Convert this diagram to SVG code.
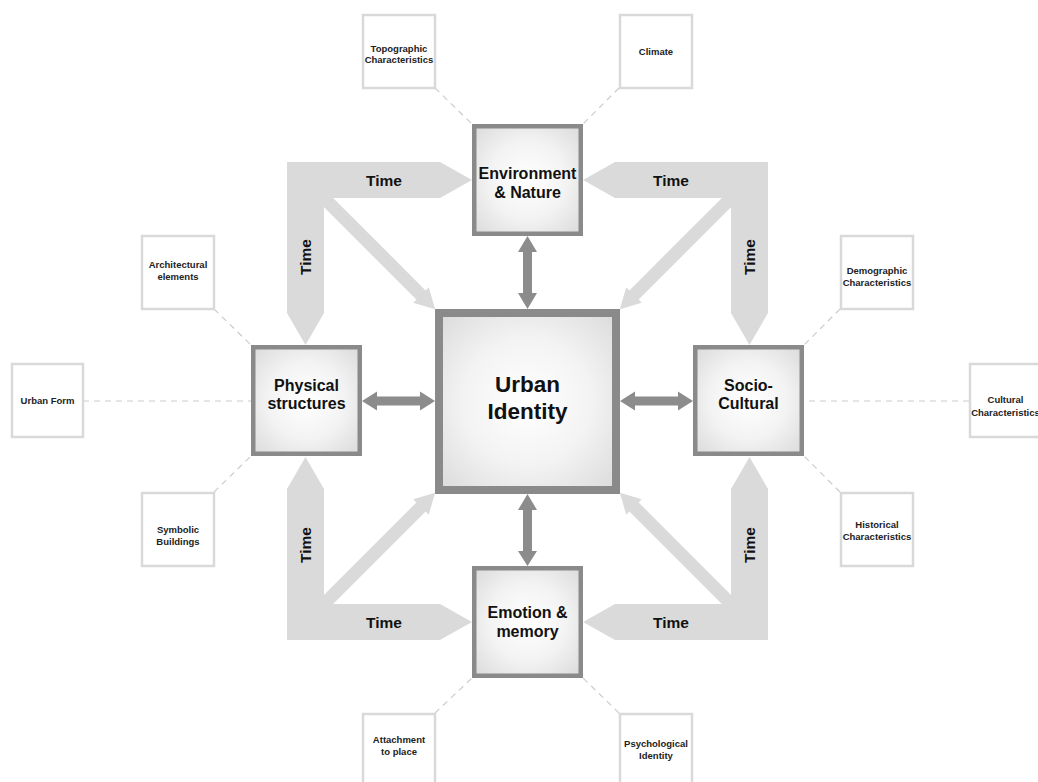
<svg xmlns="http://www.w3.org/2000/svg" width="1038" height="782" viewBox="0 0 1038 782">
<defs>
<radialGradient id="g" cx="50%" cy="50%" r="72%">
<stop offset="0%" stop-color="#ffffff"/>
<stop offset="50%" stop-color="#f3f3f3"/>
<stop offset="100%" stop-color="#d9d9d9"/>
</radialGradient>
</defs>
<style>
.node{fill:url(#g);stroke:#8a8a8a;stroke-width:4.5}
.main{fill:url(#g);stroke:#8a8a8a;stroke-width:8}
.sat{fill:#ffffff;stroke:#d9d9d9;stroke-width:2.5}
.t{font-family:"Liberation Sans",Arial,sans-serif;font-weight:bold;text-anchor:middle;fill:#111}
.nt{font-size:16px}
.mt{font-size:22.5px}
.st{font-size:9.5px;fill:#222}
.tt{font-size:15.5px;fill:#111}
.time{fill:#dadada}
.diag{fill:#dadada}
.dash{stroke:#cccccc;stroke-width:1.2;stroke-dasharray:6 5;fill:none}
.dbl{fill:#8c8c8c}
</style>

<rect width="1038" height="782" fill="#ffffff"/>

<g id="connectors">
<line class="dash" x1="435" y1="88" x2="472" y2="124"/>
<line class="dash" x1="619" y1="88" x2="583" y2="124"/>
<line class="dash" x1="214" y1="309" x2="251" y2="345"/>
<line class="dash" x1="214" y1="492" x2="251" y2="456"/>
<line class="dash" x1="83" y1="401" x2="251" y2="401"/>
<line class="dash" x1="840" y1="309" x2="804" y2="345"/>
<line class="dash" x1="840" y1="492" x2="804" y2="456"/>
<line class="dash" x1="969" y1="401" x2="804" y2="401"/>
<line class="dash" x1="435" y1="713" x2="472" y2="678"/>
<line class="dash" x1="619" y1="713" x2="583" y2="678"/>

<polygon class="time" points="287,162 440,162 472,180 440,198 324,198 324,313 305.5,345 287,313"/>
<polygon class="time" points="768,162 615,162 583,180 615,198 731,198 731,313 749.5,345 768,313"/>
<polygon class="time" points="287,640 440,640 472,622 440,604 324,604 324,489 305.5,457 287,489"/>
<polygon class="time" points="768,640 615,640 583,622 615,604 731,604 731,489 749.5,457 768,489"/>

<path class="diag" transform="translate(322,196) rotate(45)" d="M0,-6.5 L140,-6.5 L140,-11 L160,0 L140,11 L140,6.5 L0,6.5 Z"/>
<path class="diag" transform="translate(733,196) rotate(135)" d="M0,-6.5 L140,-6.5 L140,-11 L160,0 L140,11 L140,6.5 L0,6.5 Z"/>
<path class="diag" transform="translate(322,606) rotate(-45)" d="M0,-6.5 L140,-6.5 L140,-11 L160,0 L140,11 L140,6.5 L0,6.5 Z"/>
<path class="diag" transform="translate(733,606) rotate(-135)" d="M0,-6.5 L140,-6.5 L140,-11 L160,0 L140,11 L140,6.5 L0,6.5 Z"/>

<polygon class="dbl" points="527.5,236 537,252 532,252 532,293 537,293 527.5,309 518,293 523,293 523,252 518,252"/>
<polygon class="dbl" points="527.5,494 537,510 532,510 532,551 537,551 527.5,566 518,551 523,551 523,510 518,510"/>
<polygon class="dbl" points="362,401 377,391.5 377,396.5 420,396.5 420,391.5 435,401 420,410.5 420,405.5 377,405.5 377,410.5"/>
<polygon class="dbl" points="620,401 635,391.5 635,396.5 678,396.5 678,391.5 693,401 678,410.5 678,405.5 635,405.5 635,410.5"/>

<text class="t tt" x="384" y="186">Time</text>
<text class="t tt" x="671" y="186">Time</text>
<text class="t tt" x="384" y="628">Time</text>
<text class="t tt" x="671" y="628">Time</text>
<text class="t tt" transform="translate(311,257) rotate(-90)">Time</text>
<text class="t tt" transform="translate(755,257) rotate(-90)">Time</text>
<text class="t tt" transform="translate(311,545) rotate(-90)">Time</text>
<text class="t tt" transform="translate(755,545) rotate(-90)">Time</text>
</g>

<g id="urban-identity">
<rect class="main" x="439" y="313" width="177" height="177"/>
<text class="t mt" x="527.5" y="392">Urban</text>
<text class="t mt" x="527.5" y="419">Identity</text>
</g>

<g id="environment-nature">
<rect class="node" x="474.25" y="126.25" width="106.5" height="107.5"/>
<text class="t nt" x="527.5" y="179">Environment</text>
<text class="t nt" x="527.5" y="198">&amp; Nature</text>
</g>

<g id="physical-structures">
<rect class="node" x="253.25" y="347.25" width="106.5" height="106.5"/>
<text class="t nt" x="306.5" y="391">Physical</text>
<text class="t nt" x="306.5" y="409">structures</text>
</g>

<g id="socio-cultural">
<rect class="node" x="695.25" y="347.25" width="106.5" height="106.5"/>
<text class="t nt" x="748.5" y="391">Socio-</text>
<text class="t nt" x="748.5" y="409">Cultural</text>
</g>

<g id="emotion-memory">
<rect class="node" x="474.25" y="568.25" width="106.5" height="107.5"/>
<text class="t nt" x="527.5" y="618">Emotion &amp;</text>
<text class="t nt" x="527.5" y="637">memory</text>
</g>

<g id="topographic">
<rect class="sat" x="363" y="15" width="72" height="73"/>
<text class="t st" x="399" y="52">Topographic</text>
<text class="t st" x="399" y="63">Characteristics</text>
</g>

<g id="climate">
<rect class="sat" x="620" y="15" width="72" height="73"/>
<text class="t st" x="656" y="55">Climate</text>
</g>

<g id="architectural">
<rect class="sat" x="142" y="236" width="72" height="73"/>
<text class="t st" x="178" y="268">Architectural</text>
<text class="t st" x="178" y="280">elements</text>
</g>

<g id="urban-form">
<rect class="sat" x="12" y="364" width="71" height="73"/>
<text class="t st" x="47.5" y="404">Urban Form</text>
</g>

<g id="symbolic">
<rect class="sat" x="142" y="493" width="72" height="73"/>
<text class="t st" x="178" y="533">Symbolic</text>
<text class="t st" x="178" y="545">Buildings</text>
</g>

<g id="demographic">
<rect class="sat" x="841" y="236" width="72" height="73"/>
<text class="t st" x="877" y="274">Demographic</text>
<text class="t st" x="877" y="286">Characteristics</text>
</g>

<g id="cultural">
<rect class="sat" x="970" y="364" width="72" height="73"/>
<text class="t st" x="1005.5" y="403">Cultural</text>
<text class="t st" x="1005.5" y="416">Characteristics</text>
</g>

<g id="historical">
<rect class="sat" x="841" y="493" width="72" height="73"/>
<text class="t st" x="877" y="528">Historical</text>
<text class="t st" x="877" y="540">Characteristics</text>
</g>

<g id="attachment">
<rect class="sat" x="363" y="714" width="72" height="73"/>
<text class="t st" x="399" y="743">Attachment</text>
<text class="t st" x="399" y="755">to place</text>
</g>

<g id="psychological">
<rect class="sat" x="620" y="714" width="72" height="73"/>
<text class="t st" x="656" y="747">Psychological</text>
<text class="t st" x="656" y="759">Identity</text>
</g>
</svg>
